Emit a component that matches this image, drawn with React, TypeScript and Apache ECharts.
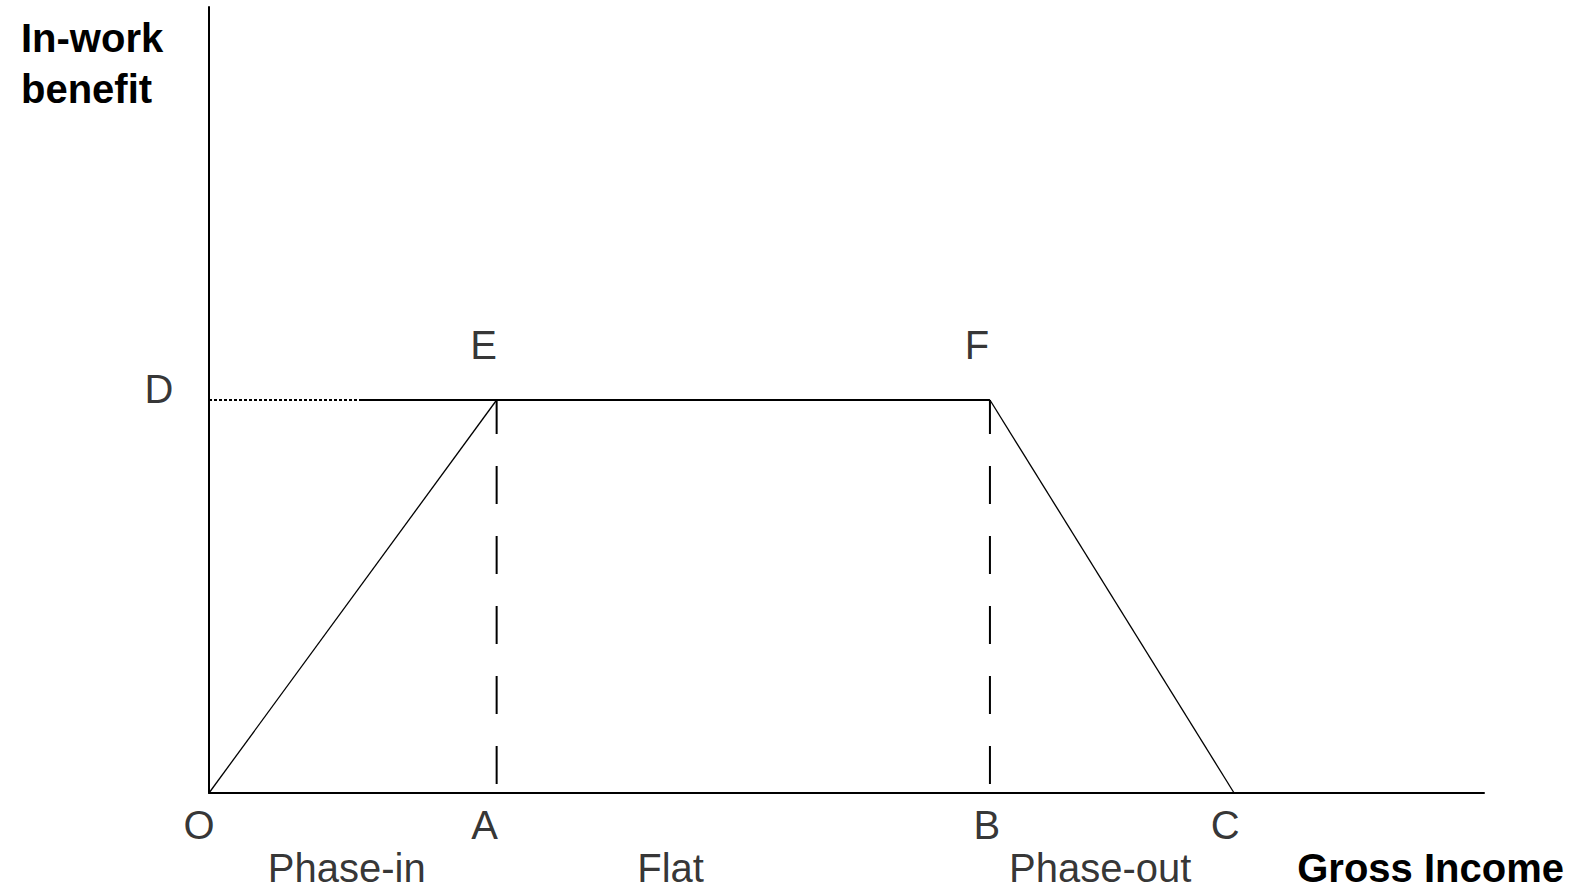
import React, { useEffect, useRef } from "react";
import * as echarts from "echarts";

// ---- data (schematic in-work benefit schedule) ----
const X_MAX = 100;
const Y_MAX = 100;
const thresholdNames = ["O", "A", "B", "C"];
const thresholdIncome = [0, 22.56, 61.25, 80.4]; // O, A, B, C on the gross income axis
const maxBenefit = 50; // level D
const dottedEnd = 12; // where the dotted D guide turns solid
const peakNames = ["E", "F"];
const sectionNames = ["Phase-in", "Flat", "Phase-out"];
const sectionLabelIncome = [10.8, 36.2, 69.9];
const yAxisTitle = ["In-work", "benefit"];
const xAxisTitle = "Gross Income";

// label offsets (pixels) — styling only
const thresholdOffsets = [[-10, 32], [-12, 32], [-3, 32], [-9, 32]];
const peakOffsets = [[-13, -55], [-13, -55]];
const dOffset = [-50, -11];
const sectionOffsetY = 75;

const FONT = "'Liberation Sans', Arial, Helvetica, sans-serif";

export default function App() {
  const ref = useRef<HTMLDivElement>(null);

  useEffect(() => {
    if (!ref.current) return;
    const chart = echarts.init(ref.current, undefined, { renderer: "svg" });
    const [O, A, B, C] = thresholdIncome;

    const labelStyle = {
      show: true,
      position: "inside",
      color: "#000",
      fontFamily: FONT,
      fontSize: 40,
      align: "center",
      verticalAlign: "middle",
    };

    const labelPoints: any[] = [];
    thresholdNames.forEach((n, i) => {
      labelPoints.push({
        value: [thresholdIncome[i], 0],
        label: { ...labelStyle, formatter: n, offset: thresholdOffsets[i] },
      });
    });
    peakNames.forEach((n, i) => {
      labelPoints.push({
        value: [i === 0 ? A : B, maxBenefit],
        label: { ...labelStyle, formatter: n, offset: peakOffsets[i] },
      });
    });
    labelPoints.push({
      value: [0, maxBenefit],
      label: { ...labelStyle, formatter: "D", offset: dOffset },
    });
    sectionNames.forEach((n, i) => {
      labelPoints.push({
        value: [sectionLabelIncome[i], 0],
        label: { ...labelStyle, formatter: n, offset: [0, sectionOffsetY] },
      });
    });

    const lineBase = {
      type: "line",
      symbol: "none",
      silent: true,
      animation: false,
    };

    chart.setOption({
      animation: false,
      grid: { left: 209, right: 91, top: 7, bottom: 98, containLabel: false },
      xAxis: {
        type: "value",
        min: 0,
        max: X_MAX,
        axisLine: { show: true, onZero: false, lineStyle: { color: "#000", width: 2 } },
        axisTick: { show: false },
        axisLabel: { show: false },
        splitLine: { show: false },
      },
      yAxis: {
        type: "value",
        min: 0,
        max: Y_MAX,
        axisLine: { show: true, onZero: false, lineStyle: { color: "#000", width: 2 } },
        axisTick: { show: false },
        axisLabel: { show: false },
        splitLine: { show: false },
      },
      graphic: [
        {
          type: "text",
          x: 21,
          y: 38,
          style: {
            text: yAxisTitle[0],
            font: `bold 40px ${FONT}`,
            fill: "#000",
            align: "left",
            verticalAlign: "middle",
          },
        },
        {
          type: "text",
          x: 21,
          y: 89,
          style: {
            text: yAxisTitle[1],
            font: `bold 40px ${FONT}`,
            fill: "#000",
            align: "left",
            verticalAlign: "middle",
          },
        },
        {
          type: "text",
          x: 1564,
          y: 868,
          style: {
            text: xAxisTitle,
            font: `bold 40px ${FONT}`,
            fill: "#000",
            align: "right",
            verticalAlign: "middle",
          },
        },
      ],
      series: [
        {
          ...lineBase,
          name: "dotted D",
          data: [[O, maxBenefit], [dottedEnd, maxBenefit]],
          lineStyle: { color: "#000", width: 2, type: [3, 2] },
        },
        {
          ...lineBase,
          name: "flat level",
          data: [[dottedEnd, maxBenefit], [B, maxBenefit]],
          lineStyle: { color: "#000", width: 2 },
        },
        {
          ...lineBase,
          name: "phase-in",
          data: [[O, 0], [A, maxBenefit]],
          lineStyle: { color: "#000", width: 1.3 },
        },
        {
          ...lineBase,
          name: "phase-out",
          data: [[B, maxBenefit], [C, 0]],
          lineStyle: { color: "#000", width: 1.3 },
        },
        {
          ...lineBase,
          name: "A guide",
          data: [[A, maxBenefit], [A, 0]],
          lineStyle: { color: "#000", width: 2, type: [38, 32], dashOffset: 4 },
        },
        {
          ...lineBase,
          name: "B guide",
          data: [[B, maxBenefit], [B, 0]],
          lineStyle: { color: "#000", width: 2, type: [38, 32], dashOffset: 4 },
        },
        {
          type: "scatter",
          name: "labels",
          silent: true,
          symbolSize: 1,
          itemStyle: { color: "rgba(0,0,0,0)" },
          data: labelPoints,
          z: 10,
        },
      ],
    });

    return () => chart.dispose();
  }, []);

  return (
    <div
      ref={ref}
      style={{ position: "absolute", left: 0, top: 0, width: 1575, height: 891, background: "#fff" }}
    />
  );
}
